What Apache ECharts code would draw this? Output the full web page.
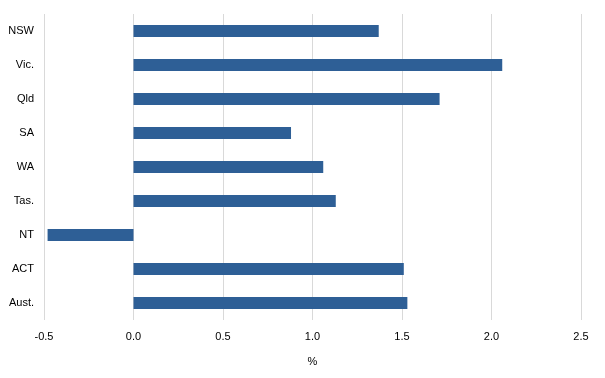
<!DOCTYPE html>
<html>
<head>
    <meta charset="utf-8">
    <title>States bar chart</title>
    <script src="https://cdn.jsdelivr.net/npm/echarts@6/dist/echarts.min.js"></script>
</head>
<body style="margin:0">
    <div id="main" style="width: 605px;height:378px;"></div>
    <script type="text/javascript">
        // data
        var states = ["NSW", "Vic.", "Qld", "SA", "WA", "Tas.", "NT", "ACT", "Aust."];
        var values = [1.37, 2.06, 1.71, 0.88, 1.06, 1.13, -0.48, 1.51, 1.53];
        var xTicks = [-0.5, 0.0, 0.5, 1.0, 1.5, 2.0, 2.5];

        var myChart = echarts.init(document.getElementById('main'));
        var font = "'Liberation Sans', Arial, sans-serif";

        var option = {
            animation: false,
            grid: {
                left: 44,
                right: 24,
                top: 14,
                bottom: 58
            },
            xAxis: {
                type: 'value',
                min: xTicks[0],
                max: xTicks[xTicks.length - 1],
                interval: 0.5,
                name: '%',
                nameLocation: 'middle',
                nameGap: 36,
                nameTextStyle: { color: '#000', fontSize: 11, fontFamily: font },
                axisLine: { show: false },
                axisTick: { show: false },
                axisLabel: {
                    color: '#000',
                    fontSize: 11,
                    fontFamily: font,
                    margin: 11,
                    formatter: function(v) { return v.toFixed(1); }
                },
                splitLine: { lineStyle: { color: '#d9d9d9', width: 1 } }
            },
            yAxis: {
                type: 'category',
                data: states,
                inverse: true,
                axisLine: { show: false },
                axisTick: { show: false },
                axisLabel: {
                    color: '#000',
                    fontSize: 11,
                    fontFamily: font,
                    margin: 10
                }
            },
            series: [{
                type: 'bar',
                data: values,
                barWidth: 12,
                itemStyle: { color: '#2e5f96' }
            }]
        };

        myChart.setOption(option);
    </script>
</body>
</html>
